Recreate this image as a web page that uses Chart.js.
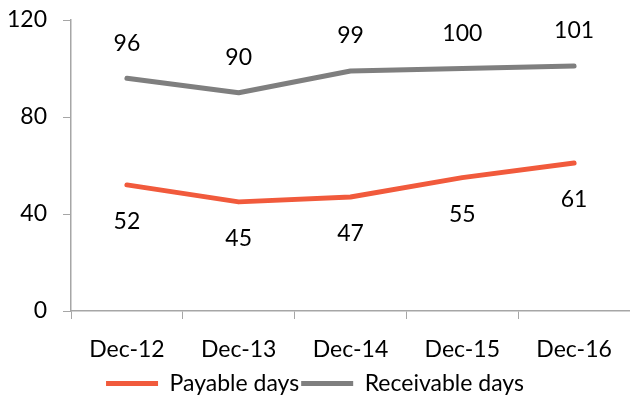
<!DOCTYPE html>
<html>
<head>
<meta charset="utf-8">
<script src="https://cdn.jsdelivr.net/npm/chart.js@4/dist/chart.umd.min.js"></script>
<style>
html,body{margin:0;padding:0;background:#fff;overflow:hidden;}
#wrap{width:630px;height:405px;position:relative;}
</style>
</head>
<body>
<div id="wrap"><canvas id="c"></canvas></div>
<script>
const categories = ["Dec-12", "Dec-13", "Dec-14", "Dec-15", "Dec-16"];
const payableDays = [52, 45, 47, 55, 61];
const receivableDays = [96, 90, 99, 100, 101];
const yTicks = [0, 40, 80, 120];

const FONT = "Lato, 'Open Sans', sans-serif";
const FS = 23;

const labelPlugin = {
  id: 'valueLabels',
  afterDatasetsDraw(chart) {
    const ctx = chart.ctx;
    ctx.save();
    ctx.font = FS + "px " + FONT;
    ctx.fillStyle = "#000";
    ctx.textAlign = "center";
    ctx.textBaseline = "middle";
    chart.data.datasets.forEach((ds, di) => {
      const meta = chart.getDatasetMeta(di);
      meta.data.forEach((pt, i) => {
        const off = ds.labelPos === 'above' ? -35 : 37;
        ctx.fillText(String(ds.data[i]), pt.x, pt.y + off);
      });
    });
    ctx.restore();
  }
};

new Chart(document.getElementById('c'), {
  type: 'line',
  data: {
    labels: categories,
    datasets: [
      {
        label: 'Payable days',
        data: payableDays,
        borderColor: '#F15A3C',
        backgroundColor: '#F15A3C',
        borderWidth: 5,
        borderCapStyle: 'round',
        borderJoinStyle: 'round',
        pointRadius: 0,
        tension: 0,
        labelPos: 'below'
      },
      {
        label: 'Receivable days',
        data: receivableDays,
        borderColor: '#7F7F7F',
        backgroundColor: '#7F7F7F',
        borderWidth: 5,
        borderCapStyle: 'round',
        borderJoinStyle: 'round',
        pointRadius: 0,
        tension: 0,
        labelPos: 'above'
      }
    ]
  },
  options: {
    responsive: true,
    maintainAspectRatio: false,
    animation: false,
    layout: { padding: { top: 20, left: 0, right: 0, bottom: 0 } },
    plugins: {
      tooltip: { enabled: false },
      legend: {
        position: 'bottom',
        labels: {
          font: { family: FONT, size: FS, lineHeight: 1.0 },
          color: '#000',
          usePointStyle: true,
          pointStyle: 'line',
          pointStyleWidth: 52,
          padding: 2
        }
      }
    },
    scales: {
      x: {
        offset: true,
        afterFit(scale) { scale.height = 59; scale.paddingLeft = 0; scale.paddingRight = 0; },
        grid: {
          display: true,
          drawOnChartArea: false,
          offset: true,
          tickLength: 8,
          color: '#A6A6A6'
        },
        border: { color: '#A6A6A6', width: 1.5 },
        ticks: {
          font: { family: FONT, size: FS },
          color: '#000',
          padding: 17,
          maxRotation: 0
        }
      },
      y: {
        min: 0,
        max: 120,
        afterBuildTicks(scale) { scale.ticks = yTicks.map(v => ({ value: v })); },
        afterFit(scale) { scale.width = 71; scale.paddingTop = 0; scale.paddingBottom = 0; },
        grid: {
          display: true,
          drawOnChartArea: false,
          tickLength: 8,
          color: '#A6A6A6'
        },
        border: { color: '#A6A6A6', width: 1.5 },
        ticks: {
          font: { family: FONT, size: FS },
          color: '#000',
          padding: 16
        }
      }
    }
  },
  plugins: [labelPlugin]
});
</script>
</body>
</html>
